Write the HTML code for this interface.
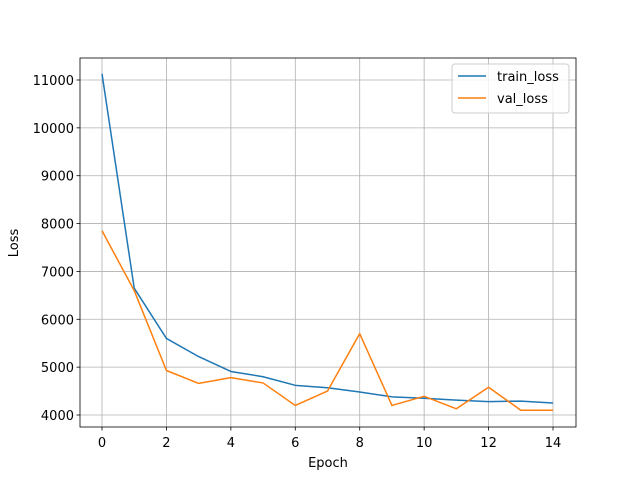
<!DOCTYPE html>
<html><head><meta charset="utf-8"><style>
body{margin:0;background:#fff;}
svg{display:block;font-family:"DejaVu Sans","Liberation Sans",sans-serif;}
</style></head><body>
<svg id="chart" width="640" height="480">
<rect width="640" height="480" fill="#fff"/>
<g id="grid"></g>
<g id="series"></g>
<rect x="80" y="58" width="496" height="369" fill="none" stroke="#000" stroke-width="0.8"/>
<g id="ticks"></g>
<text x="328" y="467" font-size="13" text-anchor="middle">Epoch</text>
<text x="18" y="243" font-size="13" text-anchor="middle" transform="rotate(-90 18 243)">Loss</text>
<g>
<rect x="452" y="64" width="117" height="49" rx="3" fill="#fff" fill-opacity="0.8" stroke="#ccc"/>
<line x1="458" y1="76" x2="486" y2="76" stroke="#1f77b4" stroke-width="1.5"/>
<text x="497" y="81" font-size="13">train_loss</text>
<line x1="458" y1="98" x2="486" y2="98" stroke="#ff7f0e" stroke-width="1.5"/>
<text x="497" y="103" font-size="13">val_loss</text>
</g>
</svg>
<script>
const epochs=[0,1,2,3,4,5,6,7,8,9,10,11,12,13,14];
const trainLoss=[11130,6650,5600,5220,4910,4800,4620,4570,4480,4380,4350,4310,4280,4290,4250];
const valLoss=[7850,6600,4930,4660,4780,4670,4200,4500,5700,4200,4390,4130,4580,4100,4100];
const xTicks=[0,2,4,6,8,10,12,14];
const yTicks=[4000,5000,6000,7000,8000,9000,10000,11000];
const NS="http://www.w3.org/2000/svg";
const x=v=>102+(553-102)*v/14;
const y=v=>415-(v-4000)*(335/7000);
const grid=document.getElementById('grid'),ticks=document.getElementById('ticks'),ser=document.getElementById('series');
function mk(tag,attrs,parent){const e=document.createElementNS(NS,tag);for(const k in attrs)e.setAttribute(k,attrs[k]);parent.appendChild(e);return e;}
xTicks.forEach(t=>{
 const g=mk('line',{x1:x(t),x2:x(t),y1:58,y2:427,stroke:'#b0b0b0','stroke-width':0.8},grid);
 
 
 const tk=mk('line',{x1:x(t),x2:x(t),y1:427,y2:430.5,stroke:'#000','stroke-width':0.8},ticks);
 
 
 const tx=mk('text',{x:x(t),y:447,'font-size':13,'text-anchor':'middle'},ticks);tx.textContent=t;
 
 
});
yTicks.forEach(t=>{
 const g=mk('line',{x1:80,x2:576,y1:y(t),y2:y(t),stroke:'#b0b0b0','stroke-width':0.8},grid);
 
 
 const tk=mk('line',{x1:76.5,x2:80,y1:y(t),y2:y(t),stroke:'#000','stroke-width':0.8},ticks);
 
 
 const tx=mk('text',{x:74,y:y(t)+5,'font-size':13,'text-anchor':'end'},ticks);tx.textContent=t;
 
 
});
function line(data,color,name){
 const p=mk('polyline',{points:data.map((v,i)=>x(epochs[i])+','+y(v)).join(' '),fill:'none',stroke:color,'stroke-width':1.5,'stroke-linejoin':'round'},ser);
 
 
}
line(trainLoss,'#1f77b4','train-loss-line');
line(valLoss,'#ff7f0e','val-loss-line');
</script>
</body></html>
